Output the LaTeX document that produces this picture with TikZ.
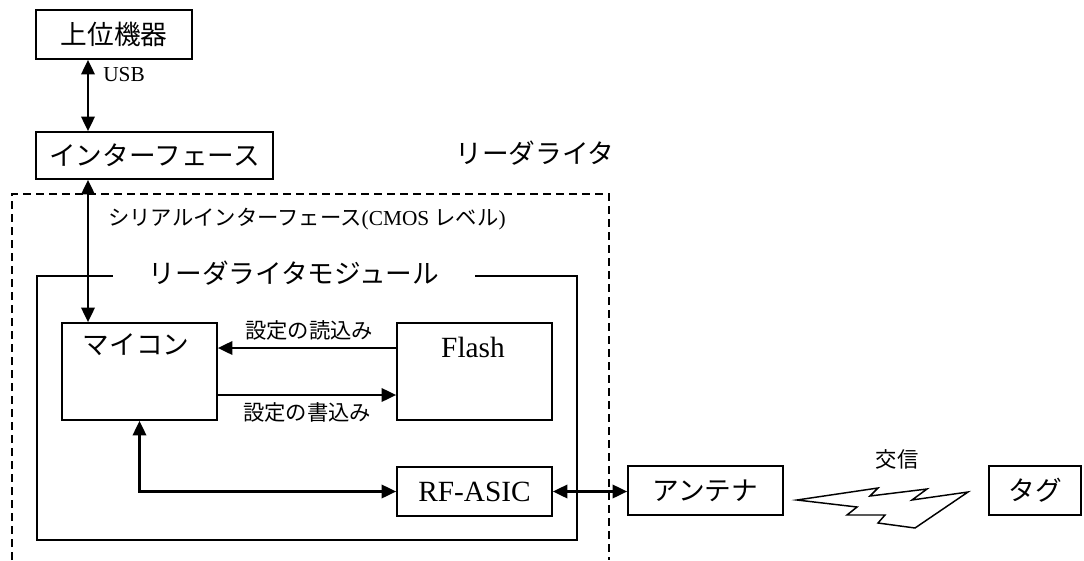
\documentclass[tikz,border=0pt]{standalone}
\usepackage{fontspec}
\setmainfont{Liberation Serif}
\newfontfamily\cjk{Noto Sans CJK JP}
\usetikzlibrary{arrows.meta,positioning}

\begin{document}
\begin{tikzpicture}[x=0.75pt,y=-0.75pt,
  box/.style 2 args={draw,line width=1.2pt,inner sep=0pt,
    minimum width=#1*0.75pt,minimum height=#2*0.75pt},
  big/.style={font=\fontsize{20}{24}\selectfont},
  latin/.style={font=\fontsize{22}{26}\selectfont},
  small/.style={font=\fontsize{16}{19}\selectfont},
  link/.style={line width=2pt,-{Triangle[length=11pt,width=10pt]}},
  duplex/.style={line width=2pt,{Triangle[length=11pt,width=10pt]}-{Triangle[length=11pt,width=10pt]}}]
\useasboundingbox (0,0) rectangle (1084,560);
\tikzstyle{every node}+=[inner sep=0pt]
\node[box={156}{49},big] (host) at (114,34.5) {\cjk 上位機器};
\node[box={237}{47},big] (iface) at (154.5,155.5) {\cjk インターフェース};
\node[big] (reader) at (535,153) {\cjk リーダライタ};
\draw [dashed,line width=1.2pt,dash pattern=on 6pt off 3.75pt] (12,560) -- (12,194) -- (609,194) -- (609,560);
\node[small] (serial) at (307,219) {{\cjk シリアルインターフェース}(CMOS {\cjk レベル})};
\draw [line width=1.2pt] (37,276) rectangle (577,540);
\node[big,fill=white,minimum width=362*0.75pt] (module) at (294,273) {\cjk リーダライタモジュール};
\node[box={155}{97}] (mcu) at (139.5,371.5) {};
\node[big] (mcutext) at (136,345) {\cjk マイコン};
\node[box={155}{97}] (flash) at (474.5,371.5) {};
\node[latin] (flashtext) at (473,347) {Flash};
\node[box={155}{49},latin] (rf) at (474.5,491.5) {RF-ASIC};
\node[box={155}{49},big] (ant) at (705.5,490.5) {\cjk アンテナ};
\node[box={92}{49},big] (tag) at (1035,490.5) {\cjk タグ};
\coordinate (busx) at (88,0);
\coordinate (ready) at (0,348);
\coordinate (writey) at (0,395);
\draw [duplex] (host.south -| busx) -- (iface.north -| busx);
\node[small,anchor=west] (usb) at (103,75) {USB};
\draw [duplex] (iface.south -| busx) -- (mcu.north -| busx);
\draw [link] (flash.west |- ready) -- (mcu.east |- ready);
\node[small] (readlbl) at (309,330) {\cjk 設定の読込み};
\draw [link] (mcu.east |- writey) -- (flash.west |- writey);
\node[small] (writelbl) at (307,412) {\cjk 設定の書込み};
\draw [duplex] (mcu.south) |- (rf.west);
\draw [duplex] (rf.east) -- (ant.west |- rf.east);
\draw [line width=1.1pt,line join=miter] (797,500) -- (878,488) -- (870,496) -- (927,489) -- (912,500) -- (968,492)
  -- (915,528) -- (878,523) -- (885,515) -- (847,515) -- (857,507) -- cycle;
\node[small] (comm) at (897,459) {\cjk 交信};
\end{tikzpicture}
\end{document}
